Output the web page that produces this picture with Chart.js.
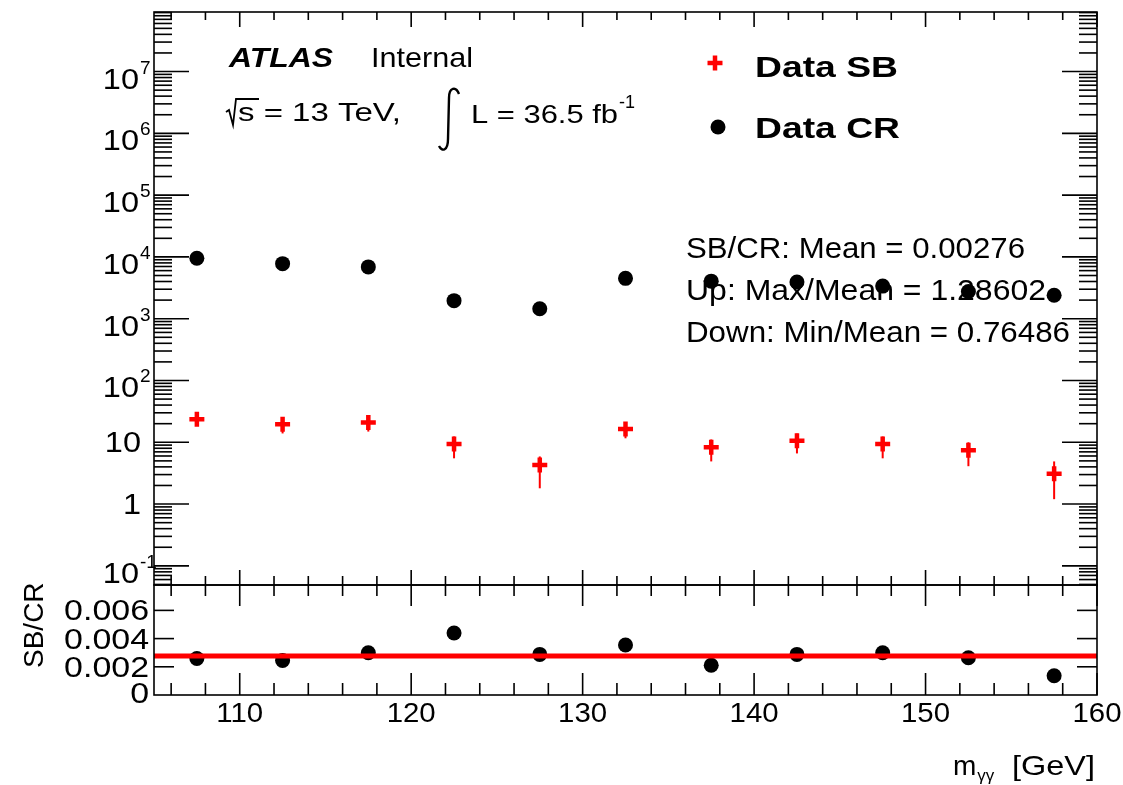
<!DOCTYPE html>
<html><head><meta charset="utf-8">
<script src="https://cdn.jsdelivr.net/npm/chart.js@4/dist/chart.umd.min.js"></script>
<style>
html,body{margin:0;padding:0;background:#fff;}
#wrap{position:relative;width:1123px;height:785px;overflow:hidden;background:#fff}
canvas{position:absolute;left:0}
</style></head><body>
<div id="wrap">
<canvas id="top" width="1123" height="600" style="top:0px"></canvas>
<canvas id="bot" width="1123" height="210" style="top:575px"></canvas>
</div>
<script>
// ---------------- data ----------------
const massBins = [107.5, 112.5, 117.5, 122.5, 127.5, 132.5, 137.5, 142.5, 147.5, 152.5, 157.5];
const dataCR   = [9500, 7780, 6890, 1960, 1450, 4500, 4050, 3930, 3370, 2750, 2400];
const dataSB   = [23.5, 19.5, 20.9, 9.4, 4.3, 16.4, 8.3, 10.6, 9.4, 7.4, 3.1];
const sbErrUp  = [4.5, 4.0, 4.2, 3.0, 1.6, 3.8, 2.8, 3.2, 3.0, 2.6, 1.8];
const sbErrDown= [4.8, 5.6, 6.0, 3.9, 2.5, 4.8, 3.4, 4.0, 3.9, 3.3, 1.9];
const ratioSBCR= [0.00259, 0.00245, 0.00300, 0.00440, 0.00288, 0.00355, 0.00211, 0.00288, 0.00300, 0.00264, 0.00137];
const meanRatio = 0.00276;
const xRange = [105, 160];
const xMajorTicks = [110, 120, 130, 140, 150, 160];
const xMinorStep = 2;
const yUpperRange = [0.049, 9.2e7];
const yUpperDecades = [-1, 0, 1, 2, 3, 4, 5, 6, 7];
const yRatioRange = [0, 0.0078];
const yRatioTicks = [0, 0.002, 0.004, 0.006];
const yRatioTickLabels = ['0', '0.002', '0.004', '0.006'];
const legendLabels = ['Data SB', 'Data CR'];
const statLines = ['SB/CR: Mean = 0.00276', 'Up: Max/Mean = 1.28602', 'Down: Min/Mean = 0.76486'];

const FONT = '"Liberation Sans", Arial, Helvetica, sans-serif';
function txt(ctx, s, x, y, o = {}) {
  ctx.save();
  ctx.font = `${o.style || 'normal'} ${o.weight || 'normal'} ${o.size || 25}px ${FONT}`;
  ctx.fillStyle = o.color || '#000';
  ctx.textBaseline = o.base || 'alphabetic';
  ctx.textAlign = 'left';
  const w = ctx.measureText(s).width;
  const sx = o.w ? o.w / w : (o.sx || 1);
  const tw = w * sx;
  let x0 = x;
  if (o.align === 'right') x0 = x - tw; else if (o.align === 'center') x0 = x - tw / 2;
  ctx.translate(x0, y);
  if (o.rot) ctx.rotate(o.rot);
  ctx.scale(sx, 1);
  ctx.fillText(s, 0, 0);
  ctx.restore();
  return tw;
}
function seg(ctx, x1, y1, x2, y2) { ctx.beginPath(); ctx.moveTo(x1, y1); ctx.lineTo(x2, y2); ctx.stroke(); }
function drawCross(ctx, x, y, r, w, col) {
  ctx.save(); ctx.strokeStyle = col; ctx.lineWidth = w;
  seg(ctx, x - r, y, x + r, y); seg(ctx, x, y - r, x, y + r); ctx.restore();
}
function drawDot(ctx, x, y, r) { ctx.save(); ctx.fillStyle = '#000'; ctx.beginPath(); ctx.arc(x, y, r, 0, Math.PI * 2); ctx.fill(); ctx.restore(); }

function xTicks(ctx, xs, ca, majBot, minBot, majTop, minTop) {
  for (let v = xRange[0] + 1; v <= xRange[1] + 1e-9; v += xMinorStep) {
    const px = xs.getPixelForValue(v);
    const maj = xMajorTicks.includes(v);
    seg(ctx, px, ca.bottom, px, ca.bottom - (maj ? majBot : minBot));
    seg(ctx, px, ca.top, px, ca.top + (maj ? majTop : minTop));
  }
}

// ---------------- upper pad ----------------
const upperPlugin = {
  id: 'upper',
  beforeDatasetsDraw(chart) {
    const ctx = chart.ctx, xs = chart.scales.x, ys = chart.scales.y;
    ctx.save(); ctx.strokeStyle = '#ff0000'; ctx.lineWidth = 2;
    massBins.forEach((m, i) => {
      const px = xs.getPixelForValue(m);
      seg(ctx, px, ys.getPixelForValue(dataSB[i] + sbErrUp[i]), px, ys.getPixelForValue(dataSB[i] - sbErrDown[i]));
    });
    ctx.restore();
  },
  afterDraw(chart) {
    const ctx = chart.ctx, ca = chart.chartArea, xs = chart.scales.x, ys = chart.scales.y;
    ctx.save();
    ctx.strokeStyle = '#000'; ctx.lineWidth = 1.6;
    ctx.strokeRect(ca.left, ca.top, ca.right - ca.left, ca.bottom - ca.top);
    xTicks(ctx, xs, ca, 15, 9, 15, 8);
    for (let k = -2; k <= 8; k++) {
      for (let m = 1; m <= 9; m++) {
        const v = m * Math.pow(10, k);
        if (v < yUpperRange[0] || v > yUpperRange[1]) continue;
        const py = ys.getPixelForValue(v);
        const L = m === 1 ? 35 : 18;
        seg(ctx, ca.left, py, ca.left + L, py);
        seg(ctx, ca.right, py, ca.right - L, py);
      }
    }
    // y tick labels
    yUpperDecades.forEach(k => {
      const py = ys.getPixelForValue(Math.pow(10, k));
      if (k === 0) txt(ctx, '1', 141, py + 10, { size: 29, sx: 1.12, align: 'right' });
      else if (k === 1) txt(ctx, '10', 141, py + 10, { size: 29, sx: 1.12, align: 'right' });
      else {
        txt(ctx, '10', 139, py + 17, { size: 29, sx: 1.12, align: 'right' });
        txt(ctx, String(k), 140, py + 2, { size: 19 });
      }
    });
    // ATLAS label
    txt(ctx, 'ATLAS', 229, 67, { size: 28, weight: 'bold', style: 'italic', w: 104 });
    txt(ctx, 'Internal', 371, 67, { size: 28, w: 102 });
    // sqrt(s)
    ctx.lineWidth = 1.8;
    ctx.beginPath(); ctx.moveTo(226, 112); ctx.lineTo(229, 110); ctx.lineTo(233, 125); ctx.lineTo(236, 99); ctx.lineTo(259, 99); ctx.stroke();
    txt(ctx, 's = 13 TeV,', 238, 121, { size: 26, w: 163 });
    // integral
    ctx.lineWidth = 2.4;
    ctx.beginPath(); ctx.moveTo(459, 94); ctx.bezierCurveTo(456, 86, 449, 87, 449, 98);
    ctx.lineTo(448, 139); ctx.bezierCurveTo(448, 151, 442, 152, 439, 146); ctx.stroke();
    const wL = txt(ctx, 'L = 36.5 fb', 471, 123, { size: 26, w: 147 });
    txt(ctx, '-1', 471 + wL + 1, 108, { size: 18 });
    // legend
    drawCross(ctx, 715, 63, 7.5, 4.5, '#ff0000');
    txt(ctx, legendLabels[0], 755, 77, { size: 30, weight: 'bold', w: 143 });
    drawDot(ctx, 718, 127, 7.5);
    txt(ctx, legendLabels[1], 755, 138, { size: 30, weight: 'bold', w: 145 });
    // stats
    txt(ctx, statLines[0], 686, 258, { size: 29, w: 339 });
    txt(ctx, statLines[1], 686, 300, { size: 29, w: 360 });
    txt(ctx, statLines[2], 686, 342, { size: 29, w: 384 });
    ctx.restore();
  }
};

new Chart(document.getElementById('top'), {
  type: 'scatter',
  data: {
    datasets: [
      { label: legendLabels[0], data: massBins.map((x, i) => ({ x, y: dataSB[i] })),
        pointStyle: 'cross', pointRadius: 7.5, pointBorderWidth: 4.5, borderColor: '#ff0000', backgroundColor: '#ff0000' },
      { label: legendLabels[1], data: massBins.map((x, i) => ({ x, y: dataCR[i] })),
        pointStyle: 'circle', pointRadius: 7.5, pointBorderWidth: 0, borderColor: '#000', backgroundColor: '#000' }
    ]
  },
  options: {
    responsive: false, animation: false, events: [],
    layout: { padding: { left: 154, right: 26, top: 6, bottom: 15 } },
    plugins: { legend: { display: false }, tooltip: { enabled: false } },
    scales: {
      x: { type: 'linear', min: xRange[0], max: xRange[1], display: false },
      y: { type: 'logarithmic', min: yUpperRange[0], max: yUpperRange[1], display: false }
    }
  },
  plugins: [upperPlugin]
});

// ---------------- ratio pad ----------------
const OFF = 575;
const lowerPlugin = {
  id: 'lower',
  afterDraw(chart) {
    const ctx = chart.ctx, ca = chart.chartArea, xs = chart.scales.x, ys = chart.scales.y;
    ctx.save();
    ctx.strokeStyle = '#000'; ctx.lineWidth = 1.6;
    ctx.strokeRect(ca.left, ca.top, ca.right - ca.left, ca.bottom - ca.top);
    xTicks(ctx, xs, ca, 22, 12, 21, 11);
    yRatioTicks.forEach((v, i) => {
      const py = ys.getPixelForValue(v);
      if (i > 0) { seg(ctx, ca.left, py, ca.left + 20, py); seg(ctx, ca.right, py, ca.right - 20, py); }
      txt(ctx, yRatioTickLabels[i], 149, py + (i === 0 ? 8 : 10), { size: 29, sx: 1.17, align: 'right' });
    });
    xMajorTicks.forEach(v => {
      txt(ctx, String(v), xs.getPixelForValue(v), ca.bottom + 27, { size: 28, sx: 1.05, align: 'center' });
    });
    // axis titles
    txt(ctx, 'SB/CR', 43, 668 - OFF, { size: 28, rot: -Math.PI / 2 });
    const wm = txt(ctx, 'm', 953, 775 - OFF, { size: 28 });
    txt(ctx, 'γγ', 953 + wm + 1, 781 - OFF, { size: 17 });
    txt(ctx, '[GeV]', 1012, 775 - OFF, { size: 28, w: 83 });
    ctx.restore();
  }
};

new Chart(document.getElementById('bot'), {
  type: 'scatter',
  data: {
    datasets: [
      { type: 'line', label: 'mean', order: 0, data: [{ x: xRange[0], y: meanRatio }, { x: xRange[1], y: meanRatio }],
        borderColor: '#ff0000', borderWidth: 5, pointRadius: 0, fill: false },
      { label: 'SB/CR', order: 1, data: massBins.map((x, i) => ({ x, y: ratioSBCR[i] })),
        pointStyle: 'circle', pointRadius: 7.5, pointBorderWidth: 0, borderColor: '#000', backgroundColor: '#000' }
    ]
  },
  options: {
    responsive: false, animation: false, events: [],
    layout: { padding: { left: 154, right: 26, top: 10, bottom: 90 } },
    plugins: { legend: { display: false }, tooltip: { enabled: false } },
    scales: {
      x: { type: 'linear', min: xRange[0], max: xRange[1], display: false },
      y: { type: 'linear', min: yRatioRange[0], max: yRatioRange[1], display: false }
    }
  },
  plugins: [lowerPlugin]
});
</script>
</body></html>
